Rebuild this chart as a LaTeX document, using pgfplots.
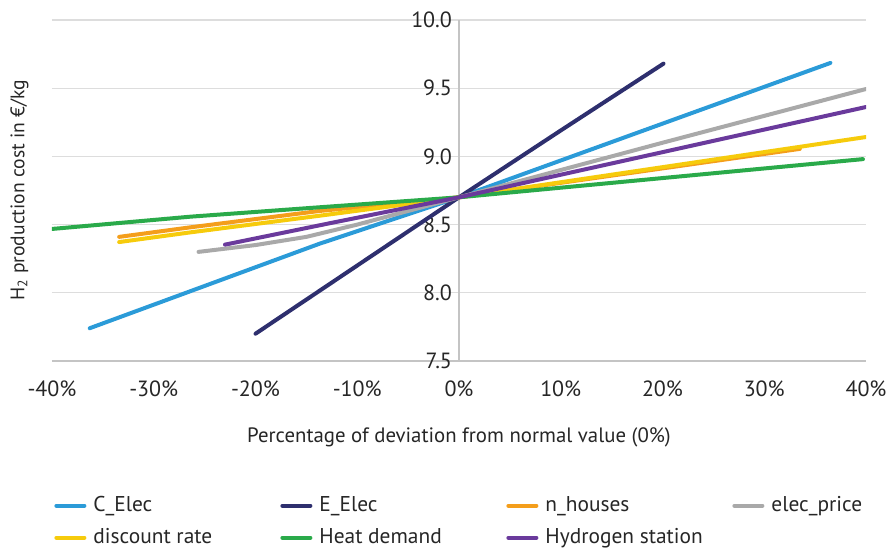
\documentclass[border=0pt]{standalone}
\usepackage{fontspec}
\setmainfont{PT Sans}
\usepackage{pgfplots}
\pgfplotsset{compat=1.18}

\definecolor{celec}{HTML}{2B9BD8}
\definecolor{eelec}{HTML}{2E2F6E}
\definecolor{nhouses}{HTML}{F49E1B}
\definecolor{elecprice}{HTML}{A9A9A9}
\definecolor{discount}{HTML}{F6CB0C}
\definecolor{heat}{HTML}{2AAA4A}
\definecolor{hydro}{HTML}{6A3A9C}
\definecolor{gridgray}{HTML}{DDDDDD}
\definecolor{axisgray}{HTML}{C4C4C4}

% fixed width for the first three legend columns
\newcommand\leg[1]{\makebox[93pt][l]{\hspace{1.5pt}\strut #1}}

\begin{document}
\begin{tikzpicture}
\begin{axis}[
    scale only axis,
    width=407pt, height=170.5pt,
    xmin=-40, xmax=40, ymin=7.5, ymax=10,
    axis x line*=bottom, axis y line*=middle,
    hide obscured x ticks=false, hide obscured y ticks=false,
    xtick={-40,-30,...,40},
    xticklabels={-40\%,-30\%,-20\%,-10\%,0\%,10\%,20\%,30\%,40\%},
    ytick={7.5,8,8.5,9,9.5,10},
    yticklabels={7.5,8.0,8.5,9.0,9.5,10.0},
    ymajorgrids,
    grid style={color=gridgray, line width=0.6pt},
    major tick length=0pt,
    x axis line style={color=axisgray, line width=0.6pt},
    y axis line style={color=axisgray, line width=0.6pt},
    tick label style={font=\fontsize{11}{13}\selectfont, text=black!85},
    xticklabel style={yshift=-6.3pt},
    every axis x label/.style={at={(rel axis cs:0.5,-0.225)}, anchor=center,
        font=\fontsize{10.4}{12}\selectfont, text=black!85},
    every axis y label/.style={at={(rel axis cs:-0.04,0.5)}, anchor=center, rotate=90,
        font=\fontsize{9.8}{12}\selectfont, text=black!85},
    xlabel={Percentage of deviation from normal value (0\%)},
    ylabel={H\textsubscript{2} production cost in €/kg},
    every axis plot/.append style={line width=2pt, line cap=round, line join=round, no marks},
    legend columns=4,
    legend image code/.code={\draw[#1] (0pt,0pt) -- (14pt,0pt);},
    legend style={at={(rel axis cs:0,0)}, anchor=north west, yshift=-63.6pt, xshift=-2pt,
        draw=none, fill=none, font=\fontsize{10.7}{10.5}\selectfont, text=black!85,
        row sep=2.9pt},
    legend cell align=left,
]

\addplot[celec] coordinates {(-36.3,7.74) (-13.7,8.36) (0,8.70) (20,9.24) (36.5,9.685)};
\addlegendentry{\leg{C\_Elec}}

\addplot[eelec] coordinates {(-20,7.70) (-10,8.20) (0,8.70) (10,9.19) (20.1,9.68)};
\addlegendentry{\leg{E\_Elec}}

\addplot[nhouses] coordinates {(-33.4,8.41) (-26.4,8.48) (-13.7,8.60) (0,8.70) (33.5,9.055)};
\addlegendentry{\leg{n\_houses}}

\addplot[elecprice] coordinates {(-25.6,8.30) (-20,8.35) (-15,8.41) (-10,8.50) (-5,8.60) (0,8.70) (20,9.10) (40,9.494)};
\addlegendentry{\hspace{1.5pt}\strut elec\_price}

\addplot[discount] coordinates {(-33.4,8.372) (-26.4,8.443) (-13.7,8.565) (0,8.70) (40,9.142)};
\addlegendentry{\leg{discount rate}}

\addplot[heat] coordinates {(-40,8.468) (-26.4,8.558) (-13.7,8.627) (0,8.70) (39.7,8.98)};
\addlegendentry{\leg{Heat demand}}

\addplot[hydro] coordinates {(-23,8.353) (-12.7,8.51) (0,8.70) (40,9.362)};
\addlegendentry{\leg{Hydrogen station}}

\coordinate (sw) at (rel axis cs:0,0);
\coordinate (ne) at (rel axis cs:1,1);
\end{axis}
% page frame with the same margins as the original
\pgfresetboundingbox
\path ([xshift=-26pt,yshift=-93.5pt]sw) rectangle ([xshift=10.5pt,yshift=10pt]ne);
\end{tikzpicture}
\end{document}
